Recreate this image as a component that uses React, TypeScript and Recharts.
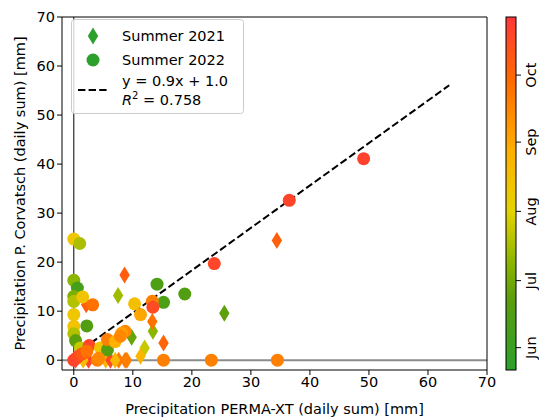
import React from "react";
import {
  ScatterChart,
  Scatter,
  XAxis,
  YAxis,
  ReferenceLine,
} from "recharts";

// Summer 2021 (diamonds): x = PERMA-XT, y = Corvatsch, day = day of year
const S2021_X = [34.4, 25.5, 8.6, 7.5, 15.2, 13.4, 13.3, 9.8, 12.0, 11.3, 8.7, 2.1, 2.5, 5.4, 6.2, 7.6, 9.0, 1.6, 0.3, 7.0];
const S2021_Y = [24.4, 9.6, 17.4, 13.2, 3.5, 5.9, 7.9, 4.7, 2.5, 0.8, 0, 11.3, 0, 0, 0, 0, 0, 0, 0, 0];
const S2021_DAY = [278, 175, 278, 195, 275, 190, 268, 178, 205, 235, 265, 280, 292, 232, 290, 265, 262, 230, 285, 235];

// Summer 2022 (circles)
const S2022_X = [
  49.1, 36.5, 23.8, 23.3, 34.5, 15.2, 14.1, 18.8, 15.2, 13.3, 13.4, 10.3, 11.3, 8.7, 8.1,
  0, 1.0, 0, 0.6, 0, 0, 1.5, 3.2, 0, 2.2, 0, 0, 0.3, 1.1, 2.6, 4.5, 5.7, 5.7, 7.0, 7.9,
  0.4, 0, 0.8, 1.4, 2.2, 4.0, 4.2,
];
const S2022_Y = [
  41.1, 32.6, 19.7, 0, 0, 0, 15.5, 13.5, 11.8, 12.0, 10.8, 11.5, 9.3, 5.9, 5.5,
  24.7, 23.8, 16.3, 14.7, 13.0, 12.0, 12.9, 11.3, 9.3, 7.0, 6.9, 5.4, 4.0, 2.5, 3.0, 2.5, 2.1, 4.2, 3.8, 4.9,
  0.4, 0, 0.8, 1.3, 1.8, 0, 0.4,
];
const S2022_DAY = [
  295, 293, 292, 262, 262, 262, 165, 168, 165, 262, 290, 228, 245, 258, 248,
  222, 198, 190, 160, 185, 200, 225, 268, 222, 168, 225, 200, 175, 205, 292, 225, 170, 262, 240, 258,
  292, 294, 290, 282, 268, 262, 258,
];

const FIT_SLOPE = 0.866;
const FIT_INTERCEPT = 1.0;
const FIT_X = [0, 63.6];

const X_TICKS = [0, 10, 20, 30, 40, 50, 60, 70];
const Y_TICKS = [0, 10, 20, 30, 40, 50, 60, 70];

const CBAR_DAYS = [142, 300];
const MONTH_DAYS = [152, 182, 213, 244, 274];
const MONTH_LABELS = ["Jun", "Jul", "Aug", "Sep", "Oct"];

const STOPS: [number, string][] = [
  [0, "#2ca02c"],
  [0.2, "#5a9e0c"],
  [0.3, "#8ab400"],
  [0.45, "#e5d300"],
  [0.62, "#ffb000"],
  [0.82, "#ff6a00"],
  [1, "#ff3838"],
];

const hex = (h: string) => [1, 3, 5].map((i) => parseInt(h.slice(i, i + 2), 16));

function cmap(day: number) {
  const t = Math.max(0, Math.min(1, (day - CBAR_DAYS[0]) / (CBAR_DAYS[1] - CBAR_DAYS[0])));
  for (let i = 1; i < STOPS.length; i++) {
    if (t <= STOPS[i][0]) {
      const [t0, c0] = STOPS[i - 1];
      const [t1, c1] = STOPS[i];
      const f = (t - t0) / (t1 - t0);
      const a = hex(c0);
      const b = hex(c1);
      const c = a.map((v, k) => Math.round(v + (b[k] - v) * f));
      return `rgb(${c[0]},${c[1]},${c[2]})`;
    }
  }
  return STOPS[STOPS.length - 1][1];
}

const data2021 = S2021_X.map((x, i) => ({ x, y: S2021_Y[i], day: S2021_DAY[i] }));
const data2022 = S2022_X.map((x, i) => ({ x, y: S2022_Y[i], day: S2022_DAY[i] }));

const FONT = "DejaVu Sans, sans-serif";
const FS = 14.5;

const Diamond = (props: any) => {
  const { cx, cy, payload } = props;
  const p = `${cx},${cy - 8.5} ${cx + 5.2},${cy} ${cx},${cy + 8.5} ${cx - 5.2},${cy}`;
  return <polygon points={p} fill={cmap(payload.day)} />;
};

const Dot = (props: any) => {
  const { cx, cy, payload } = props;
  return <circle cx={cx} cy={cy} r={6.5} fill={cmap(payload.day)} />;
};

const W = 539;
const H = 418;
const PLOT = { left: 62, right: 487, top: 17, bottom: 370 };
const CB = { x: 506, w: 10 };

function ColorBar() {
  const h = PLOT.bottom - PLOT.top;
  const yOf = (d: number) =>
    PLOT.bottom - ((d - CBAR_DAYS[0]) / (CBAR_DAYS[1] - CBAR_DAYS[0])) * h;
  return (
    <svg width={W} height={H} style={{ position: "absolute", left: 0, top: 0, pointerEvents: "none" }}>
      <defs>
        <linearGradient id="cb" x1="0" y1="1" x2="0" y2="0">
          {STOPS.map(([t, c]) => (
            <stop key={t} offset={t} stopColor={c} />
          ))}
        </linearGradient>
      </defs>
      <rect x={CB.x} y={PLOT.top} width={CB.w} height={h} fill="url(#cb)" stroke="#000" strokeWidth={1} />
      {MONTH_DAYS.map((d, i) => (
        <g key={d}>
          <line x1={CB.x + CB.w} x2={CB.x + CB.w + 5} y1={yOf(d)} y2={yOf(d)} stroke="#000" />
          <text
            x={531}
            y={yOf(d)}
            transform={`rotate(-90 531 ${yOf(d)})`}
            textAnchor="middle"
            dominantBaseline="central"
            fontFamily={FONT}
            fontSize={FS}
          >
            {MONTH_LABELS[i]}
          </text>
        </g>
      ))}
    </svg>
  );
}

function Legend() {
  return (
    <svg width={W} height={H} style={{ position: "absolute", left: 0, top: 0, pointerEvents: "none" }}>
      <rect x={71.5} y={19.5} width={172} height={94} rx={3} fill="#fff" fillOpacity={0.8} stroke="#ccc" />
      <polygon points="93,27.5 98.2,36 93,44.5 87.8,36" fill="#2ca02c" />
      <circle cx={93} cy={60} r={6.5} fill="#2ca02c" />
      <line x1={78} x2={108} y1={90} y2={90} stroke="#000" strokeWidth={2} strokeDasharray="7.4 3.2" />
      <g fontFamily={FONT} fontSize={FS} fill="#000">
        <text x={122} y={41}>Summer 2021</text>
        <text x={122} y={65}>Summer 2022</text>
        <text x={122} y={86}>y = 0.9x + 1.0</text>
        <text x={122} y={105}>
          <tspan fontStyle="italic">R</tspan>
          <tspan dy={-6} fontSize={10}>2</tspan>
          <tspan dy={6}> = 0.758</tspan>
        </text>
      </g>
    </svg>
  );
}

export default function App() {
  const tick = { fill: "#000", fontSize: FS, fontFamily: FONT };
  return (
    <div style={{ position: "relative", width: W, height: H, background: "#fff" }}>
      <style>{"body{margin:0}"}</style>
      <ScatterChart
        width={W}
        height={H}
        margin={{ top: PLOT.top, right: W - PLOT.right, bottom: 0, left: 0 }}
      >
        <XAxis
          type="number"
          dataKey="x"
          domain={[-2, 70]}
          ticks={X_TICKS}
          tick={tick}
          tickSize={5}
          height={H - PLOT.bottom}
          axisLine={{ stroke: "#000" }}
          tickLine={{ stroke: "#000" }}
          label={() => (
            <text
              x={(PLOT.left + PLOT.right) / 2}
              y={414}
              textAnchor="middle"
              fontFamily={FONT}
              fontSize={FS}
            >
              Precipitation PERMA-XT (daily sum) [mm]
            </text>
          )}
        />
        <YAxis
          type="number"
          dataKey="y"
          domain={[-2, 70]}
          ticks={Y_TICKS}
          tick={tick}
          tickSize={5}
          width={PLOT.left}
          axisLine={{ stroke: "#000" }}
          tickLine={{ stroke: "#000" }}
          label={() => (
            <text
              x={20}
              y={(PLOT.top + PLOT.bottom) / 2}
              transform={`rotate(-90 20 ${(PLOT.top + PLOT.bottom) / 2})`}
              textAnchor="middle"
              dominantBaseline="central"
              fontFamily={FONT}
              fontSize={FS}
            >
              Precipitation P. Corvatsch (daily sum) [mm]
            </text>
          )}
        />
        <Scatter name="Summer 2021" data={data2021} shape={Diamond} isAnimationActive={false} />
        <Scatter name="Summer 2022" data={data2022} shape={Dot} isAnimationActive={false} />
        <ReferenceLine y={0} stroke="#8c8c8c" strokeWidth={2} />
        <ReferenceLine x={0} stroke="#000" strokeWidth={1} />
        <ReferenceLine
          segment={[
            { x: FIT_X[0], y: FIT_INTERCEPT + FIT_SLOPE * FIT_X[0] },
            { x: FIT_X[1], y: FIT_INTERCEPT + FIT_SLOPE * FIT_X[1] },
          ]}
          stroke="#000"
          strokeWidth={2}
          strokeDasharray="7.4 3.2"
        />
        <ReferenceLine y={70} stroke="#000" strokeWidth={1} />
        <ReferenceLine x={70} stroke="#000" strokeWidth={1} />
      </ScatterChart>
      <Legend />
      <ColorBar />
    </div>
  );
}
